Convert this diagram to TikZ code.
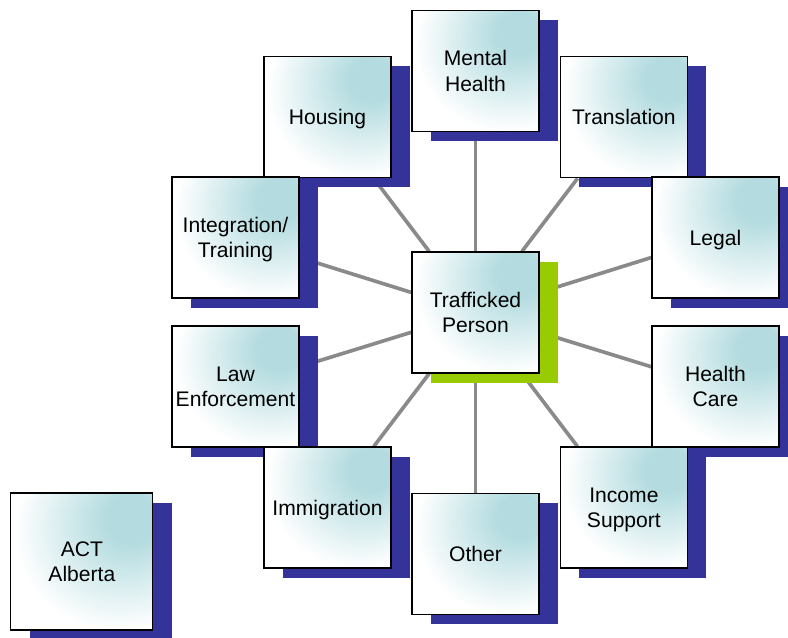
\documentclass[tikz,border=0pt]{standalone}
\usepackage{fontspec}
\setmainfont{Liberation Sans}
\usepackage{xcolor}
\usepackage{tikz}
\usetikzlibrary{shadows,backgrounds}
\definecolor{boxteal}{RGB}{180,220,224}
\definecolor{shadowblue}{RGB}{51,51,153}
\definecolor{shadowgreen}{RGB}{153,204,0}
\definecolor{linkgray}{RGB}{138,138,138}
\pgfdeclareradialshading{boxglow}{\pgfpoint{19bp}{17bp}}{color(0bp)=(boxteal); color(9bp)=(boxteal); color(36bp)=(white); color(100bp)=(white)}

\begin{document}
\begin{tikzpicture}[textbox/.style={font=\fontsize{15}{18}\selectfont, draw, line width=0.8pt, minimum width=3.175cm, minimum height=3.025cm, inner sep=2pt, text depth=0pt, align=center, shading=boxglow, drop shadow={shadow xshift=0.475cm, shadow yshift=-0.24cm, fill=#1, opacity=1}}, textbox/.default=shadowblue, link/.style={draw=linkgray, line width=2.6pt}]
\useasboundingbox (-11.8875,-8.1125) rectangle (7.8125,7.8125);
%outer ring
\node[textbox] (v1) at (0,6.04) {Mental\\Health};
\node[textbox] (v2) at (-3.7,4.88) {Housing};
\node[textbox] (v3) at (3.71,4.88) {Translation};
\node[textbox] (v4) at (-6,1.875) {Integration/\\Training};
\node[textbox] (v5) at (6,1.875) {Legal};
\node[textbox] (v6) at (-6,-1.85) {Law\\Enforcement};
\node[textbox] (v7) at (6,-1.85) {Health\\Care};
\node[textbox] (v8) at (-3.7,-4.875) {Immigration};
\node[textbox] (v9) at (3.71,-4.875) {Income\\Support};
\node[textbox] (v10) at (0,-6.03) {Other};
\node[textbox, minimum width=3.55cm, minimum height=3.425cm] (v11) at (-9.84,-6.225) {ACT\\Alberta};
\node[textbox=shadowgreen] (v0) at (0,0) {Trafficked\\Person};
\begin{scope}[on background layer]
\draw [link] (v0) edge (v1);
\draw [link] (v0) edge (v2);
\draw [link] (v0) edge (v3);
\draw [link] (v0) edge (v4);
\draw [link] (v0) edge (v5);
\draw [link] (v0) edge (v6);
\draw [link] (v0) edge (v7);
\draw [link] (v0) edge (v8);
\draw [link] (v0) edge (v9);
\draw [link] (v0) edge (v10);
\end{scope}
\end{tikzpicture}
\end{document}
